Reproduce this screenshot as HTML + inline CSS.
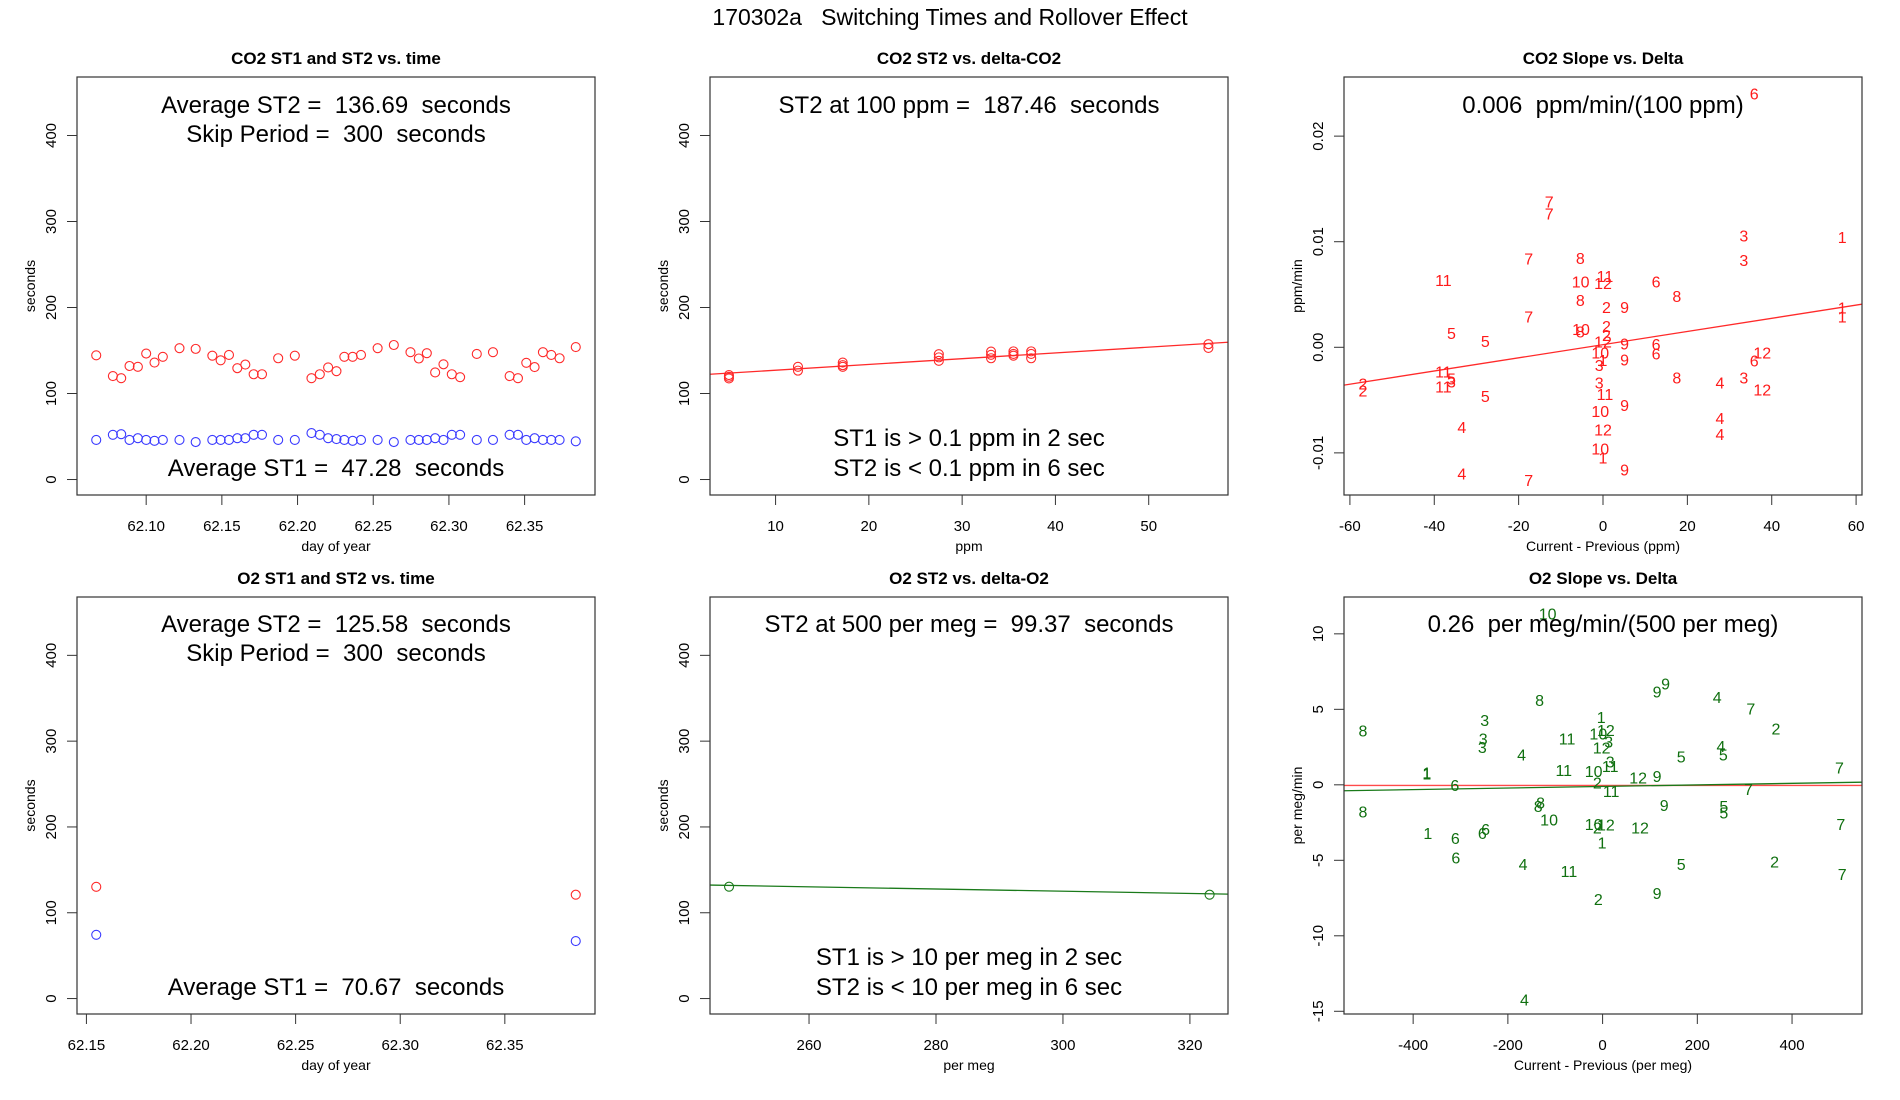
<!DOCTYPE html>
<html><head><meta charset="utf-8"><title>170302a Switching Times and Rollover Effect</title>
<style>
html,body{margin:0;padding:0;background:#fff;}
svg{display:block;font-family:"Liberation Sans",Arial,sans-serif;}
text{white-space:pre;}
</style></head>
<body>
<svg id="fig" width="1900" height="1100" viewBox="0 0 1900 1100" xmlns="http://www.w3.org/2000/svg" xml:space="preserve">
<rect x="0" y="0" width="1900" height="1100" fill="#fff"/>
<text x="950" y="25" font-size="23" text-anchor="middle" fill="#000">170302a   Switching Times and Rollover Effect</text>
</svg>
<script>
// ---- Panel 1: CO2 ST1/ST2 vs time ----
const co2Time = [62.067,62.078,62.0835,62.089,62.0945,62.100,62.1055,62.111,62.122,62.1327,62.1437,62.1492,62.1547,62.1602,62.1655,62.171,62.1765,62.1872,62.1982,62.2092,62.2147,62.2202,62.2257,62.2309,62.2364,62.2419,62.2529,62.2636,62.2746,62.2801,62.2854,62.2909,62.2964,62.3019,62.3074,62.3184,62.3291,62.3401,62.3456,62.3511,62.3566,62.3621,62.3676,62.3731,62.3838];
const co2ST2 = [144.4,120.3,117.8,132,131,146.5,136,142.7,152.7,151.9,144,138.6,144.8,129.5,133.6,122.4,122.4,141,144,117.8,122.4,130.3,126,142.7,142.7,144.8,152.7,156.4,148,140.7,146.9,124.5,134,122.4,119,146,148,120.3,117.8,135.7,130.7,148,144.8,141,154];
const co2ST1 = [46,52,52.7,46,48,46,45,46,46,43.6,46,46,46,48,48,52,52,46,46,54,52,48,47,46,45,46,46,43.6,46,46,46,48,46,52,52,46,46,52,52,46,48,46,46,46,44.4];
const timeTicksTop = [62.10,62.15,62.20,62.25,62.30,62.35];
const secTicks = [0,100,200,300,400];
// ---- Panel 2: CO2 ST2 vs delta ----
const co2Delta = [5,5,5,12.4,12.4,17.2,17.2,17.2,27.5,27.5,27.5,33.1,33.1,33.1,35.5,35.5,35.5,37.4,37.4,37.4,56.4,56.4];
const co2DeltaST2 = [121.5,119.5,117.5,131,126.6,136,133,131,145.7,142,138,148.8,145,141,149,146,144,149,146,141,157.4,153];
const co2Fit = [120.36,0.671];
const ppmTicks = [10,20,30,40,50];
// ---- Panel 3: CO2 slope vs delta ----
const co2SlopeLbl = ["6","7","7","3","1","3","7","8","11","10","11","12","6","8","8","2","9","7","1","1","5","10","8","2","2","5","12","9","6","10","6","12","6","9","3","1","11","5","3","11","3","8","4","3","12","2","2","5","11","9","10","4","4","4","12","10","1","9","4","7"];
const co2SlopeX = [35.84,-12.76,-12.76,33.38,56.72,33.38,-17.6,-5.38,-37.84,-5.29,0.46,0,12.59,17.51,-5.38,0.82,5.11,-17.6,56.72,56.72,-35.93,-5.2,-5.38,0.82,0.82,-27.9,0,5.11,12.59,-0.64,12.59,37.76,35.84,5.11,-0.91,0,-37.84,-35.93,-35.93,-37.84,-0.91,17.51,27.72,33.38,37.76,-56.9,-56.9,-27.9,0.46,5.11,-0.64,27.72,27.72,-33.46,0,-0.64,0,5.11,-33.46,-17.6];
const co2SlopeY = [0.02405,0.01383,0.01266,0.01057,0.01044,0.00829,0.00839,0.00845,0.00639,0.00623,0.00677,0.00608,0.00623,0.00487,0.00449,0.0038,0.0038,0.00291,0.00377,0.00291,0.00133,0.00171,0.00149,0.00203,0.00117,0.0006,0.00054,0.00038,0.00032,-0.00051,-0.00057,-0.00047,-0.00127,-0.00114,-0.00168,-0.0012,-0.00231,-0.00294,-0.00326,-0.00373,-0.00335,-0.00288,-0.00332,-0.00288,-0.00399,-0.00342,-0.00411,-0.00462,-0.00443,-0.00547,-0.00604,-0.00668,-0.00823,-0.00753,-0.00778,-0.00959,-0.01044,-0.01158,-0.01196,-0.01259];
const co2SlopeFit = [0.00025,0.0000624];
const deltaTicksCO2 = [-60,-40,-20,0,20,40,60];
const slopeTicksCO2 = [-0.01,0,0.01,0.02];
const slopeTickLblCO2 = ["-0.01","0.00","0.01","0.02"];
// ---- Panel 4: O2 ST1/ST2 vs time ----
const o2Time = [62.1547,62.3839];
const o2ST2 = [130.2,121];
const o2ST1 = [74.3,67];
const timeTicksBot = [62.15,62.20,62.25,62.30,62.35];
// ---- Panel 5: O2 ST2 vs delta ----
const o2Delta = [247.4,323.1];
const o2DeltaST2 = [130.4,121];
const o2Fit = [163.7,-0.1287];
const permegTicks = [260,280,300,320];
// ---- Panel 6: O2 slope vs delta ----
const o2SlopeLbl = ["10","9","9","8","4","7","1","3","8","2","10","12","11","3","3","3","12","4","5","4","5","3","11","1","1","11","10","12","9","2","6","11","7","7","8","8","9","5","5","8","10","10","12","2","12","7","6","6","1","6","1","6","4","5","2","11","7","9","2","4"];
const o2SlopeX = [-116,115,133,-133,242,313,-3,-249,-506,366,-9,7,-75,-252,-254,13,-2,250,255,-171,166,16,16,-371,-371,-82,-19,75,115,-11,-312,18,308,500,-131,-136,130,256,256,-506,-113,-19,7,-11,79,503,-247,-254,-369,-311,-1,-310,-168,166,363,-71,506,115,-9,-165];
const o2SlopeY = [11.34,6.17,6.70,5.62,5.81,5.04,4.49,4.30,3.59,3.72,3.39,3.63,3.08,3.08,2.51,2.86,2.47,2.58,2.00,2.00,1.89,1.54,1.26,0.81,0.75,0.97,0.93,0.48,0.57,0.15,0,-0.40,-0.29,1.15,-1.17,-1.39,-1.34,-1.39,-1.83,-1.76,-2.31,-2.60,-2.64,-2.82,-2.82,-2.60,-2.93,-3.19,-3.19,-3.52,-3.81,-4.80,-5.24,-5.24,-5.09,-5.70,-5.90,-7.16,-7.56,-14.21];
const o2SlopeFit = [-0.11,0.00052];
const o2RefFit = [-0.04,0];
const deltaTicksO2 = [-400,-200,0,200,400];
const slopeTicksO2 = [-15,-10,-5,0,5,10];

const NS = "http://www.w3.org/2000/svg";
const svg = document.getElementById('fig');
function mk(tag, attrs, parent){
  const e = document.createElementNS(NS, tag);
  for (const k in attrs) e.setAttribute(k, attrs[k]);
  (parent||svg).appendChild(e);
  return e;
}
const colL = [77,710,1344], W = 518;
const rowT = [77,597], H = [418,417];
let clipN = 0;

function panel(c){
  const L = colL[c.col], T = rowT[c.row], h = H[c.row], B = T + h, R = L + W;
  const g = mk('g', {});
  
  
  const sx = v => L + (v - c.xlim[0]) / (c.xlim[1] - c.xlim[0]) * W;
  const sy = v => B - (v - c.ylim[0]) / (c.ylim[1] - c.ylim[0]) * h;
  const cid = 'clip' + (clipN++);
  const cp = mk('clipPath', {id: cid}, g);
  mk('rect', {x: L, y: T, width: W, height: h}, cp);
  const t = mk('text', {x: L + W/2, y: T - 13, 'font-size': 17, 'font-weight': 'bold', 'text-anchor': 'middle'}, g);
  
  
  t.textContent = c.title;
  c.xt.forEach((v, i) => {
    const x = sx(v);
    const tk = mk('line', {x1: x, y1: B, x2: x, y2: B + 10, stroke: '#333', 'stroke-width': 1}, g);
    
    
    const tl = mk('text', {x: x, y: B + 36, 'font-size': 15, 'text-anchor': 'middle'}, g);
    
    
    tl.textContent = c.xtl ? c.xtl[i] : String(v);
  });
  c.yt.forEach((v, i) => {
    const y = sy(v);
    const tk = mk('line', {x1: L - 10, y1: y, x2: L, y2: y, stroke: '#333', 'stroke-width': 1}, g);
    
    
    const tl = mk('text', {x: 0, y: 0, 'font-size': 15, 'text-anchor': 'middle', transform: 'translate(' + (L - 21) + ',' + y + ') rotate(-90)'}, g);
    
    
    tl.textContent = c.ytl ? c.ytl[i] : String(v);
  });
  const xl = mk('text', {x: L + W/2, y: B + 56, 'font-size': 14, 'text-anchor': 'middle'}, g);
  
  
  xl.textContent = c.xlab;
  const yl = mk('text', {x: 0, y: 0, 'font-size': 14, 'text-anchor': 'middle', transform: 'translate(' + (L - 42) + ',' + (T + h/2) + ') rotate(-90)'}, g);
  
  
  yl.textContent = c.ylab;
  (c.lines || []).forEach(ln => {
    const x0 = c.xlim[0], x1 = c.xlim[1];
    const l = mk('line', {x1: sx(x0), y1: sy(ln.fit[0] + ln.fit[1]*x0), x2: sx(x1), y2: sy(ln.fit[0] + ln.fit[1]*x1), stroke: ln.color, 'stroke-width': 1.3, 'clip-path': 'url(#' + cid + ')'}, g);
    
    
  });
  (c.pts || []).forEach(s => {
    s.x.forEach((xv, i) => {
      const ci = mk('circle', {cx: sx(xv), cy: sy(s.y[i]), r: 4.5, fill: 'none', stroke: s.color, 'stroke-width': 1.1}, g);
      
      
    });
  });
  (c.lbls || []).forEach(s => {
    s.x.forEach((xv, i) => {
      const tx = mk('text', {x: sx(xv), y: sy(s.y[i]) + 6, 'font-size': 16, 'text-anchor': 'middle', fill: s.color}, g);
      
      
      tx.textContent = s.l[i];
    });
  });
  const bx = mk('rect', {x: L, y: T, width: W, height: h, fill: 'none', stroke: '#333', 'stroke-width': 1.2}, g);
  
  
  (c.notes || []).forEach(n => {
    const a = mk('text', {x: L + W/2, y: n[1], 'font-size': 24, 'text-anchor': 'middle'}, g);
    
    
    a.textContent = n[0];
  });
}

panel({name:'co2-time-panel', col:0,row:0,title:'CO2 ST1 and ST2 vs. time', xlim:[62.0543,62.3965], ylim:[-18,468],
  xt: timeTicksTop, xtl: timeTicksTop.map(v=>v.toFixed(2)), yt: secTicks, xlab:'day of year', ylab:'seconds',
  pts:[{name:'st2-point',x:co2Time,y:co2ST2,color:'#ff2a2a'},{name:'st1-point',x:co2Time,y:co2ST1,color:'#3a3aff'}],
  notes:[['Average ST2 =  136.69  seconds',113],['Skip Period =  300  seconds',142],['Average ST1 =  47.28  seconds',476]]});
panel({name:'co2-delta-panel', col:1,row:0,title:'CO2 ST2 vs. delta-CO2', xlim:[2.97,58.5], ylim:[-18,468],
  xt: ppmTicks, yt: secTicks, xlab:'ppm', ylab:'seconds',
  lines:[{name:'st2-fit-line',fit:co2Fit,color:'#ff2a2a'}],
  pts:[{name:'st2-point',x:co2Delta,y:co2DeltaST2,color:'#ff2a2a'}],
  notes:[['ST2 at 100 ppm =  187.46  seconds',113],['ST1 is > 0.1 ppm in 2 sec',446],['ST2 is < 0.1 ppm in 6 sec',476]]});
panel({name:'co2-slope-panel', col:2,row:0,title:'CO2 Slope vs. Delta', xlim:[-61.4,61.4], ylim:[-0.01399,0.0256],
  xt: deltaTicksCO2, yt: slopeTicksCO2, ytl: slopeTickLblCO2, xlab:'Current - Previous (ppm)', ylab:'ppm/min',
  lines:[{name:'slope-fit-line',fit:co2SlopeFit,color:'#ff2a2a'}],
  lbls:[{name:'month-label',x:co2SlopeX,y:co2SlopeY,l:co2SlopeLbl,color:'#ff1a1a'}],
  notes:[['0.006  ppm/min/(100 ppm)',113]]});
panel({name:'o2-time-panel', col:0,row:1,title:'O2 ST1 and ST2 vs. time', xlim:[62.1455,62.3931], ylim:[-18,468],
  xt: timeTicksBot, xtl: timeTicksBot.map(v=>v.toFixed(2)), yt: secTicks, xlab:'day of year', ylab:'seconds',
  pts:[{name:'st2-point',x:o2Time,y:o2ST2,color:'#ff2a2a'},{name:'st1-point',x:o2Time,y:o2ST1,color:'#3a3aff'}],
  notes:[['Average ST2 =  125.58  seconds',632],['Skip Period =  300  seconds',661],['Average ST1 =  70.67  seconds',995]]});
panel({name:'o2-delta-panel', col:1,row:1,title:'O2 ST2 vs. delta-O2', xlim:[244.4,326], ylim:[-18,468],
  xt: permegTicks, yt: secTicks, xlab:'per meg', ylab:'seconds',
  lines:[{name:'st2-fit-line',fit:o2Fit,color:'#1a7a1a'}],
  pts:[{name:'st2-point',x:o2Delta,y:o2DeltaST2,color:'#1a7a1a'}],
  notes:[['ST2 at 500 per meg =  99.37  seconds',632],['ST1 is > 10 per meg in 2 sec',965],['ST2 is < 10 per meg in 6 sec',995]]});
panel({name:'o2-slope-panel', col:2,row:1,title:'O2 Slope vs. Delta', xlim:[-546,547.7], ylim:[-15.18,12.44],
  xt: deltaTicksO2, yt: slopeTicksO2, xlab:'Current - Previous (per meg)', ylab:'per meg/min',
  lines:[{name:'reference-line',fit:o2RefFit,color:'#ff4a4a'},{name:'slope-fit-line',fit:o2SlopeFit,color:'#1a7a1a'}],
  lbls:[{name:'month-label',x:o2SlopeX,y:o2SlopeY,l:o2SlopeLbl,color:'#107010'}],
  notes:[['0.26  per meg/min/(500 per meg)',632]]});
</script>
</body></html>
